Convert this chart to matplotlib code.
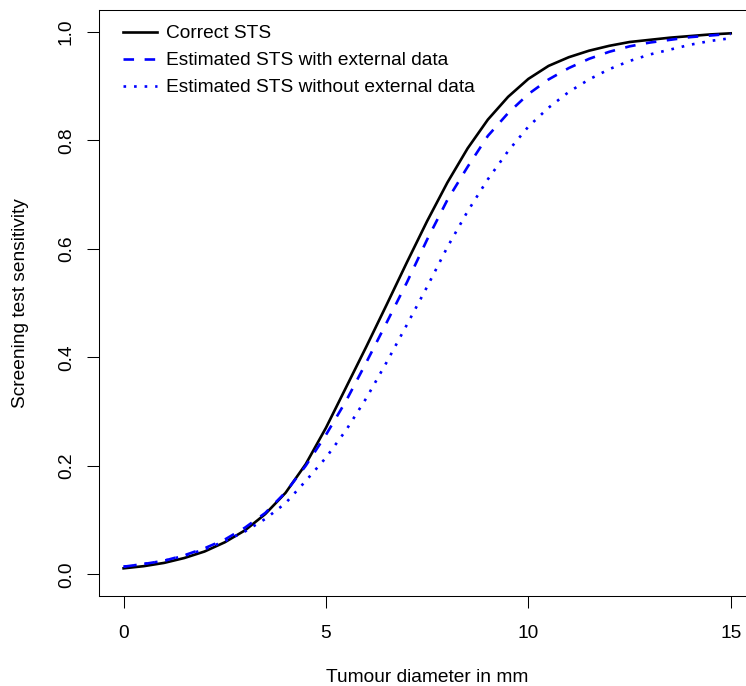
import matplotlib
matplotlib.use("Agg")
import matplotlib.pyplot as plt

# tumour diameter (mm) and sensitivity values
diameter = [0, 0.5, 1, 1.5, 2, 2.5, 3, 3.5, 4, 4.5, 5, 5.5, 6, 6.5, 7, 7.5,
            8, 8.5, 9, 9.5, 10, 10.5, 11, 11.5, 12, 12.5, 13, 13.5, 14, 14.5, 15]

correct_sts = [0.011, 0.015, 0.021, 0.030, 0.042, 0.059, 0.081, 0.111, 0.150,
               0.203, 0.270, 0.345, 0.420, 0.497, 0.575, 0.651, 0.722, 0.785,
               0.838, 0.880, 0.913, 0.937, 0.953, 0.965, 0.974, 0.981, 0.985,
               0.989, 0.992, 0.995, 0.997]

sts_with_external = [0.014, 0.019, 0.025, 0.035, 0.048, 0.064, 0.086, 0.113,
                     0.151, 0.200, 0.257, 0.320, 0.391, 0.464, 0.538, 0.617,
                     0.690, 0.751, 0.808, 0.850, 0.885, 0.912, 0.933, 0.950,
                     0.963, 0.973, 0.980, 0.985, 0.990, 0.993, 0.996]

sts_without_external = [0.014, 0.019, 0.025, 0.034, 0.046, 0.061, 0.079, 0.102,
                        0.131, 0.172, 0.215, 0.266, 0.325, 0.391, 0.460, 0.530,
                        0.603, 0.669, 0.728, 0.780, 0.825, 0.860, 0.889, 0.912,
                        0.931, 0.946, 0.958, 0.967, 0.976, 0.983, 0.988]

x_ticks = [0, 5, 10, 15]
y_ticks = [0.0, 0.2, 0.4, 0.6, 0.8, 1.0]

plt.rcParams["font.family"] = ["Liberation Sans", "DejaVu Sans"]
plt.rcParams["font.size"] = 13.8

W, H = 746, 686
fig = plt.figure(figsize=(W / 100, H / 100), dpi=100)
left, right, top, bottom = 99.3, 755, 10, 596
ax = fig.add_axes([left / W, (H - bottom) / H, (right - left) / W, (bottom - top) / H])

lw = 1.9
blue = "#0000ff"
ax.plot(diameter, correct_sts, color="black", lw=lw, label="Correct STS")
ax.plot(diameter, sts_with_external, color=blue, lw=lw, ls=(0, (4, 4)),
        dash_capstyle="butt", label="Estimated STS with external data")
ax.plot(diameter, sts_without_external, color=blue, lw=lw, ls=(0, (1, 3)),
        dash_capstyle="butt", label="Estimated STS without external data")

ax.set_xlim(-0.6, 15.6)
ax.set_ylim(-0.04, 1.04)
ax.set_xticks(x_ticks)
ax.set_xticklabels([str(t) for t in x_ticks])
ax.set_yticks(y_ticks)
ax.set_yticklabels(["%.1f" % t for t in y_ticks], rotation=90, va="center")
ax.tick_params(axis="both", length=8.5, width=0.75, direction="out", color="black")
ax.tick_params(axis="x", pad=12.5)
ax.tick_params(axis="y", pad=9)
for s in ax.spines.values():
    s.set_linewidth(0.75)
ax.spines["right"].set_visible(False)

fig.text((left + right) / 2 / W, 1 - 677 / H, "Tumour diameter in mm",
         ha="center", va="center")
fig.text(21 / W, 1 - (top + bottom) / 2 / H, "Screening test sensitivity",
         rotation=90, ha="center", va="center")

leg = ax.legend(loc="upper left", bbox_to_anchor=(123 / W, 1 - 25 / H),
                bbox_transform=fig.transFigure, frameon=False,
                handlelength=1.77, handletextpad=0.47, labelspacing=0.5,
                borderpad=0, borderaxespad=0)

fig.savefig("out.png", dpi=100)
